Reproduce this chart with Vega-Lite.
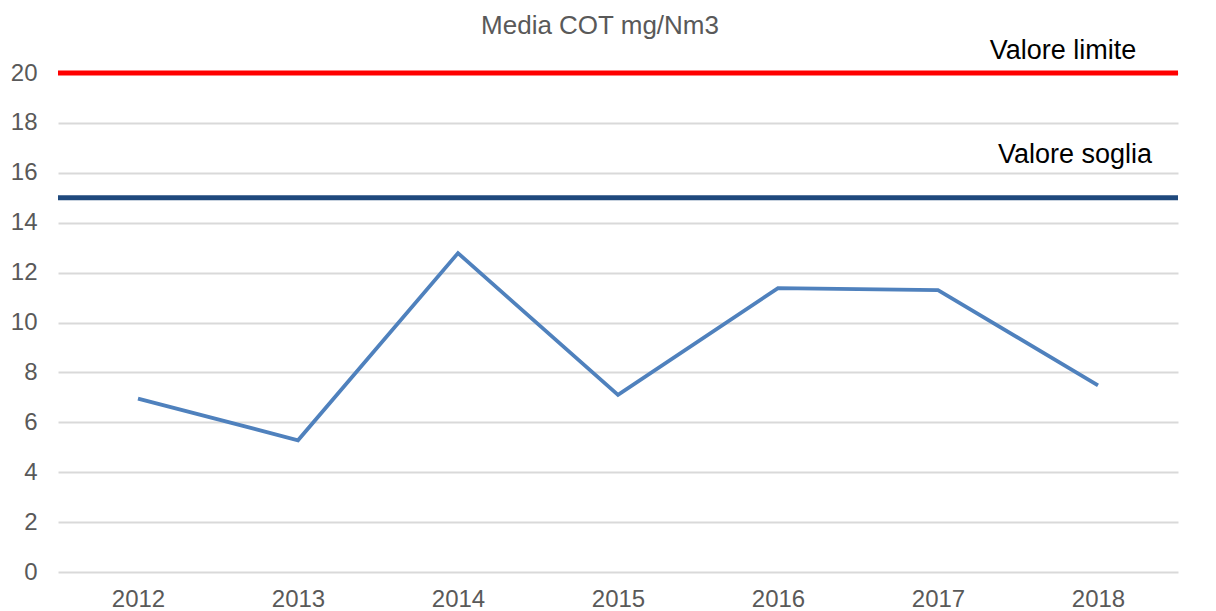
{
  "$schema": "https://vega.github.io/schema/vega-lite/v6.json",
  "width": 1120,
  "height": 499,
  "autosize": {"type": "none"},
  "padding": {"left": 58, "top": 73, "right": 38, "bottom": 39},
  "background": "white",
  "config": {
    "font": "Liberation Sans",
    "view": {"stroke": null},
    "axis": {"domain": false, "ticks": false, "labelColor": "#595959", "labelFontSize": 24, "labelFont": "Liberation Sans", "gridColor": "#d9d9d9", "gridWidth": 2}
  },
  "title": {"text": "Media COT mg/Nm3", "fontSize": 26, "fontWeight": "normal", "color": "#595959", "font": "Liberation Sans", "anchor": "middle", "offset": -2, "dx": -18},
  "layer": [
    {
      "data": {"values": [
        {"year": "2012", "value": 6.95},
        {"year": "2013", "value": 5.28},
        {"year": "2014", "value": 12.78},
        {"year": "2015", "value": 7.1},
        {"year": "2016", "value": 11.38},
        {"year": "2017", "value": 11.3},
        {"year": "2018", "value": 7.48}
      ]},
      "mark": {"type": "line", "color": "#4f81bd", "strokeWidth": 3.8},
      "encoding": {
        "x": {"field": "year", "type": "ordinal", "title": null, "axis": {"labelAngle": 0, "labelPadding": 15, "grid": false}},
        "y": {"field": "value", "type": "quantitative", "title": null, "scale": {"domain": [0, 20], "nice": false}, "axis": {"values": [0, 2, 4, 6, 8, 10, 12, 14, 16, 18, 20], "labelPadding": 21}}
      }
    },
    {
      "data": {"values": [{"name": "Valore limite", "value": 20}]},
      "mark": {"type": "rule", "color": "#ff0000", "strokeWidth": 5, "clip": false},
      "encoding": {"y": {"field": "value", "type": "quantitative"}}
    },
    {
      "data": {"values": [{"name": "Valore soglia", "value": 15}]},
      "mark": {"type": "rule", "color": "#1f497d", "strokeWidth": 5, "clip": false},
      "encoding": {"y": {"field": "value", "type": "quantitative"}}
    },
    {
      "data": {"values": [{"name": "Valore limite", "year": "2018", "value": 20.9}]},
      "mark": {"type": "text", "fontSize": 27, "color": "#000000", "align": "center", "baseline": "middle", "dx": -35},
      "encoding": {"x": {"field": "year", "type": "ordinal"}, "y": {"field": "value", "type": "quantitative"}, "text": {"field": "name"}}
    },
    {
      "data": {"values": [{"name": "Valore soglia", "year": "2018", "value": 16.7}]},
      "mark": {"type": "text", "fontSize": 27, "color": "#000000", "align": "center", "baseline": "middle", "dx": -23},
      "encoding": {"x": {"field": "year", "type": "ordinal"}, "y": {"field": "value", "type": "quantitative"}, "text": {"field": "name"}}
    }
  ]
}
